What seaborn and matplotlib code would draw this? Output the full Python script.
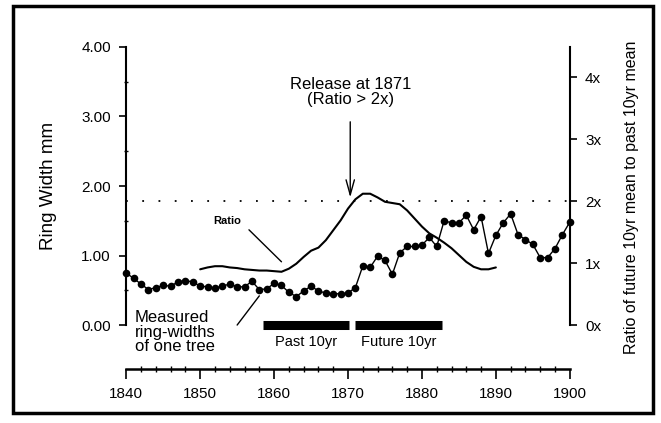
import numpy as np
import seaborn as sns
import matplotlib.pyplot as plt
from matplotlib.patches import Rectangle

# data
anos = list(range(1840, 1901))
largura_anel = [0.75, 0.67, 0.59, 0.51, 0.54, 0.57, 0.56, 0.62, 0.64, 0.62,
                0.56, 0.55, 0.53, 0.56, 0.59, 0.55, 0.55, 0.63, 0.51, 0.52,
                0.60, 0.57, 0.47, 0.41, 0.49, 0.56, 0.49, 0.46, 0.45, 0.45,
                0.46, 0.54, 0.85, 0.83, 0.99, 0.93, 0.73, 1.04, 1.13, 1.13,
                1.15, 1.26, 1.13, 1.50, 1.47, 1.47, 1.58, 1.37, 1.56, 1.03,
                1.29, 1.47, 1.60, 1.30, 1.23, 1.16, 0.97, 0.97, 1.10, 1.30,
                1.48]

anos_razao = list(range(1850, 1891))
razao = [0.90, 0.93, 0.95, 0.95, 0.93, 0.92, 0.90, 0.89, 0.88, 0.88,
         0.87, 0.86, 0.91, 0.99, 1.10, 1.20, 1.25, 1.37, 1.53, 1.69,
         1.88, 2.03, 2.12, 2.12, 2.06, 1.99, 1.97, 1.95, 1.85, 1.72,
         1.59, 1.48, 1.41, 1.33, 1.24, 1.13, 1.02, 0.94, 0.90, 0.90,
         0.93]

periodos = [(1858.5, 1870.1), (1870.9, 1882.7)]
rotulos_periodo = ["Past 10yr", "Future 10yr"]
limiar = 2.0

sns.set_style("ticks")
plt.rcParams['font.family'] = ['Liberation Sans', 'DejaVu Sans']
plt.rcParams.update({"text.color": "black", "axes.labelcolor": "black",
                     "xtick.color": "black", "ytick.color": "black",
                     "axes.edgecolor": "black"})

fig = plt.figure(figsize=(6.61, 4.23), dpi=100)
ax = fig.add_axes([0.191, 0.128, 0.671, 0.761])
ax2 = ax.twinx()

# escala: 1 unidade da esquerda = 1.1223 unidades da direita
fator = 1.1223
ymin, ymax = -0.63, 4.0
ax.set_ylim(ymin, ymax)
ax2.set_ylim(ymin * fator, ymax * fator)
ax.set_xlim(1840, 1900)

# medidas
sns.lineplot(x=anos, y=largura_anel, ax=ax, color="black", lw=1.0,
             marker="o", markersize=5.5, markeredgewidth=0, clip_on=False)

# razao
sns.lineplot(x=anos_razao, y=razao, ax=ax2, color="black", lw=1.5)
ax2.axhline(limiar, color="black", lw=1.3, linestyle=(0, (1, 8)))

# barras dos periodos
for (ini, fim), rot in zip(periodos, rotulos_periodo):
    ax.hlines(0.0, ini, fim, color="black", lw=6.5)
    ax.text((ini + fim) / 2, -0.24, rot, ha="center", va="center", fontsize=10.5)

# anotacoes
ax2.annotate("Release at 1871\n(Ratio > 2x)", xy=(1870.3, 2.06), xytext=(1870.3, 3.76),
             ha="center", va="center", fontsize=12, linespacing=1.05,
             arrowprops=dict(arrowstyle="->,head_length=0.9,head_width=0.25",
                             color="black", lw=1.0, shrinkA=8, shrinkB=0))
ax.text(1853.7, 1.49, "Ratio", fontsize=8, fontweight="bold", ha="center", va="center")
ax.plot([1856.6, 1861.0], [1.37, 0.91], color="black", lw=1.0)
ax.text(1841.2, -0.10, "Measured\nring-widths\nof one tree", fontsize=12,
        ha="left", va="center", linespacing=0.95)
ax.plot([1855.0, 1858.0], [0.0, 0.42], color="black", lw=1.0)

# eixos
for a in (ax, ax2):
    a.spines["top"].set_visible(False)
ax.spines["right"].set_visible(False)
ax2.spines["left"].set_visible(False)
ax2.spines["bottom"].set_visible(False)
ax.spines["left"].set_bounds(0, 4)
ax.spines["left"].set_linewidth(1.5)
ax2.spines["right"].set_bounds(0, ymax * fator)
ax2.spines["right"].set_linewidth(1.5)
ax.spines["bottom"].set_linewidth(1.8)

ax.set_yticks([0, 1, 2, 3, 4])
ax.set_yticks([0.5, 1.5, 2.5, 3.5], minor=True)
ax.set_yticklabels(["0.00", "1.00", "2.00", "3.00", "4.00"])
ax.set_xticks(range(1840, 1901, 10))
ax.set_xticks([a for a in range(1842, 1900, 2) if a % 10], minor=True)
ax2.set_yticks([0, 1, 2, 3, 4])
ax2.set_yticklabels(["0x", "1x", "2x", "3x", "4x"])

ax.tick_params(axis="y", which="major", length=5, width=1.2, pad=6, labelsize=11)
ax.tick_params(axis="y", which="minor", length=3, width=1.0, direction="inout")
ax.tick_params(axis="x", which="major", length=7, width=1.2, pad=6, labelsize=11)
ax.tick_params(axis="x", which="minor", bottom=True, length=4, width=1.0,
               direction="inout", color="black")
ax2.tick_params(axis="y", length=5, width=1.2, pad=6, labelsize=11)

ax.set_ylabel("Ring Width mm", fontsize=13.5)
ax.yaxis.set_label_coords(-0.157, 0.568)
ax.set_xlabel("")
ax2.set_ylabel("Ratio of future 10yr mean to past 10yr mean", fontsize=11.5)
ax2.yaxis.set_label_coords(1.122, 0.534)

# moldura
fig.patches.append(Rectangle((0.02, 0.024), 0.968, 0.962, transform=fig.transFigure,
                             fill=False, edgecolor="black", lw=2.5))

fig.savefig("out.png", dpi=100)
